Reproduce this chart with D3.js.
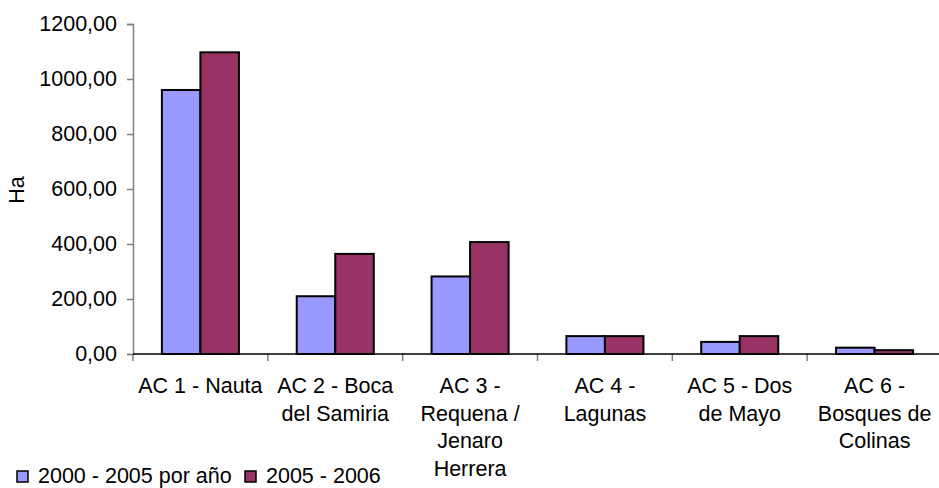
<!DOCTYPE html>
<html>
<head>
<meta charset="utf-8">
<script src="https://cdn.jsdelivr.net/npm/d3@7"></script>
<style>
  html, body { margin: 0; padding: 0; background: #fff; }
  svg { display: block; font-family: "Liberation Sans", Arial, sans-serif; }
</style>
</head>
<body>
<div id="chart"></div>
<script>
/* data */
const categories = ["AC1", "AC2", "AC3", "AC4", "AC5", "AC6"];
const categoryLines = [
  ["AC 1 - Nauta"],
  ["AC 2 - Boca", "del Samiria"],
  ["AC 3 -", "Requena /", "Jenaro", "Herrera"],
  ["AC 4 -", "Lagunas"],
  ["AC 5 - Dos", "de Mayo"],
  ["AC 6 -", "Bosques de", "Colinas"]
];
const seriesNames = ["2000 - 2005 por año", "2005 - 2006"];
const series2000_2005 = [960, 210, 282, 65, 44, 23];
const series2005_2006 = [1097, 364, 407, 65, 65, 14];
const yTicks = [0, 200, 400, 600, 800, 1000, 1200];
const yTitle = "Ha";

const W = 939, H = 488;
const plot = { left: 133, right: 942, top: 24, bottom: 354 };
const FS = "21.5px";
const COLORS = ["#9999ff", "#993366"];

const svg = d3.select("#chart").append("svg")
  .attr("width", W).attr("height", H);

const x0 = d3.scaleBand().domain(categories).range([plot.left, plot.right]).padding(0);
const x1 = d3.scaleBand().domain(seriesNames).range([0, x0.bandwidth()])
  .paddingInner(0).paddingOuter(0.75);
const y = d3.scaleLinear().domain([0, 1200]).range([plot.bottom, plot.top]);

const fmt = d3.formatLocale({ decimal: ",", thousands: ".", grouping: [3], currency: ["", ""] }).format(".2f");

/* y axis */
const yAxis = svg.append("g").attr("transform", `translate(${plot.left},0)`)
  .call(d3.axisLeft(y).tickValues(yTicks).tickSize(6).tickPadding(10).tickFormat(fmt));
yAxis.select(".domain").attr("stroke", "#808080").attr("stroke-width", 1.5);
yAxis.selectAll(".tick line").attr("stroke", "#808080").attr("stroke-width", 1.5);
yAxis.selectAll("text").style("font-size", FS).style("fill", "#000")
  .style("font-family", '"Liberation Sans", Arial, sans-serif');

/* y title */
svg.append("text").attr("transform", `translate(24,190) rotate(-90)`)
  .attr("text-anchor", "middle").style("font-size", FS).style("fill", "#000")
  .text(yTitle);

/* category ticks */
svg.append("g").selectAll("line").data(categories.concat(["end"])).enter().append("line")
  .attr("x1", (d, i) => plot.left + i * x0.step()).attr("x2", (d, i) => plot.left + i * x0.step())
  .attr("y1", plot.bottom).attr("y2", plot.bottom + 7)
  .attr("stroke", "#808080").attr("stroke-width", 1.5);

/* bars */
const rows = categories.map((c, i) => ({ cat: c, vals: [series2000_2005[i], series2005_2006[i]] }));
const grp = svg.append("g").selectAll("g").data(rows).enter().append("g")
  .attr("transform", d => `translate(${x0(d.cat)},0)`);
grp.selectAll("rect").data(d => d.vals.map((v, j) => ({ name: seriesNames[j], v, j }))).enter()
  .append("rect")
  .attr("x", d => x1(d.name)).attr("width", x1.bandwidth())
  .attr("y", d => y(d.v)).attr("height", d => y(0) - y(d.v))
  .attr("fill", d => COLORS[d.j]).attr("stroke", "#000").attr("stroke-width", 2);

/* x axis line */
svg.append("line").attr("x1", plot.left).attr("x2", plot.right)
  .attr("y1", plot.bottom).attr("y2", plot.bottom)
  .attr("stroke", "#000").attr("stroke-width", 1.5);

/* x labels */
const lab = svg.append("g").selectAll("text").data(categories).enter().append("text")
  .attr("x", d => x0(d) + x0.bandwidth() / 2).attr("y", 393)
  .attr("text-anchor", "middle").style("font-size", FS).style("fill", "#000");
lab.selectAll("tspan").data((d, i) => categoryLines[i]).enter().append("tspan")
  .attr("x", function () { return this.parentNode.getAttribute("x"); })
  .attr("dy", (d, i) => i === 0 ? 0 : 27.5)
  .text(d => d);

/* legend */
const legX = [17, 245];
const leg = svg.append("g");
seriesNames.forEach((name, i) => {
  leg.append("rect").attr("x", legX[i]).attr("y", 471).attr("width", 11).attr("height", 11)
    .attr("fill", COLORS[i]).attr("stroke", "#000").attr("stroke-width", 1.5);
  leg.append("text").attr("x", legX[i] + 21).attr("y", 483)
    .style("font-size", FS).style("fill", "#000").text(name);
});
</script>
</body>
</html>
